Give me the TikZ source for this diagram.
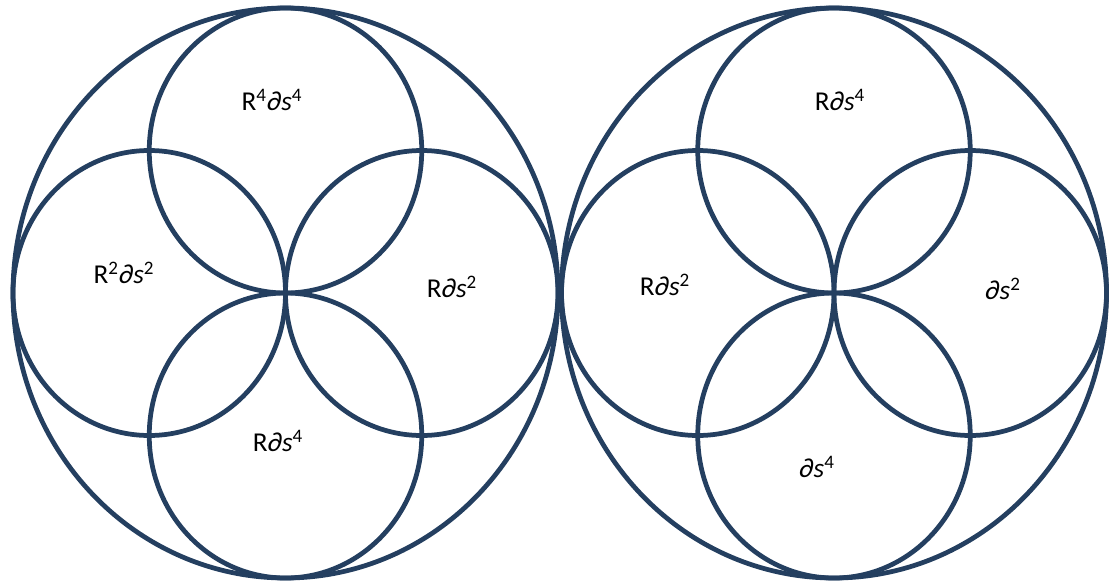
\documentclass[tikz,border=0pt]{standalone}
\usepackage{fontspec}
\setmainfont{Carlito}
\definecolor{azulescuro}{HTML}{243F60}
\tikzset{
  aro/.style={draw=azulescuro, line width=2.7pt},
  rotulo/.style={font=\fontsize{15.5}{18}\selectfont, text=black, inner sep=0pt}
}
\newcommand{\dsfrac}{\textit{∂s}}
\begin{document}
\begin{tikzpicture}[x=0.02cm,y=0.02cm]
\useasboundingbox (0,0) rectangle (1109,-585);
% Dois círculos grandes, cada um com quatro círculos menores
\foreach \cx in {285.5,834}{
  \draw[aro] (\cx,-293) ellipse [x radius=272.5, y radius=285];
  \draw[aro] (\cx,-150.5) ellipse [x radius=136.25, y radius=142.5];
  \draw[aro] (\cx,-435.5) ellipse [x radius=136.25, y radius=142.5];
  \draw[aro] ({\cx-136.25},-293) ellipse [x radius=136.25, y radius=142.5];
  \draw[aro] ({\cx+136.25},-293) ellipse [x radius=136.25, y radius=142.5];
}
% rótulos da esquerda
\node[rotulo] (esqCima) at (272,-100) {R\textsuperscript{4}\dsfrac\textsuperscript{4}};
\node[rotulo] (esqEsq) at (124,-273) {R\textsuperscript{2}\dsfrac\textsuperscript{2}};
\node[rotulo] (esqDir) at (452,-287) {R\dsfrac\textsuperscript{2}};
\node[rotulo] (esqBaixo) at (278,-441) {R\dsfrac\textsuperscript{4}};
% rótulos da direita
\node[rotulo] (dirCima) at (840,-100) {R\dsfrac\textsuperscript{4}};
\node[rotulo] (dirEsq) at (665,-285) {R\dsfrac\textsuperscript{2}};
\node[rotulo] (dirDir) at (1003,-289) {\dsfrac\textsuperscript{2}};
\node[rotulo] (dirBaixo) at (817,-467) {\dsfrac\textsuperscript{4}};
\end{tikzpicture}
\end{document}
